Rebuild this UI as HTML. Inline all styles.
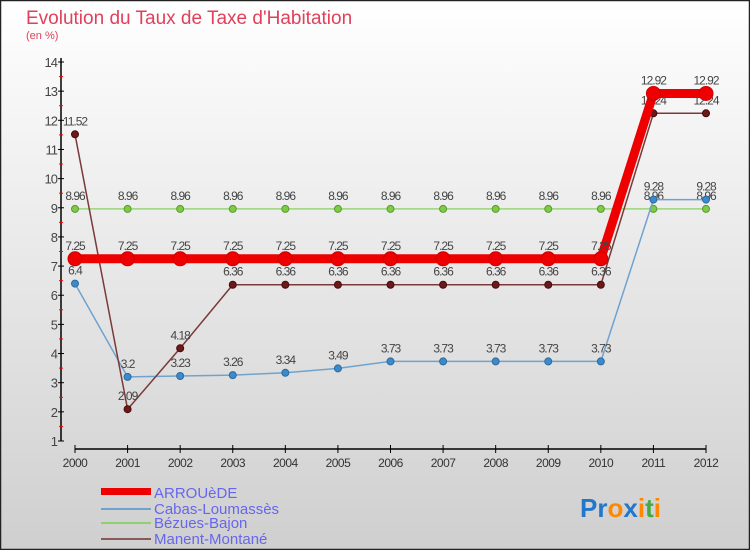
<!DOCTYPE html>
<html><head><meta charset="utf-8"><style>
body{margin:0;}
svg{display:block;font-family:"Liberation Sans",sans-serif;}
</style></head><body>
<svg id="chart" width="750" height="550" viewBox="0 0 750 550">
<defs><linearGradient id="bg" x1="0" y1="0" x2="0" y2="1"><stop offset="0" stop-color="#ffffff"/><stop offset="1" stop-color="#cfcfcf"/></linearGradient></defs>
<rect x="0.5" y="0.5" width="749" height="549" fill="url(#bg)" stroke="#222" stroke-width="1.5"/>
<text x="26" y="24" font-size="19" fill="#e0405a">Evolution du Taux de Taxe d'Habitation</text>
<text x="26" y="39" font-size="11" fill="#e0405a">(en %)</text>
<g id="axes"></g>
<g id="series"></g>
<g>
<rect x="101" y="488" width="50" height="7" fill="#ee0000"/>
<text x="154" y="498" font-size="15" fill="#6666ee">ARROUèDE</text>
<rect x="101" y="508" width="50" height="2" fill="#6fa3cf"/>
<text x="154" y="514" font-size="15" fill="#6666ee">Cabas-Loumassès</text>
<rect x="101" y="522" width="50" height="2" fill="#8fd070"/>
<text x="154" y="528" font-size="15" fill="#6666ee">Bézues-Bajon</text>
<rect x="101" y="538" width="50" height="2" fill="#8a5a5a"/>
<text x="154" y="544" font-size="15" fill="#6666ee">Manent-Montané</text>
</g>
<text x="580" y="517" font-size="26" font-weight="bold"><tspan fill="#2277cc">Pr</tspan><tspan fill="#ff8800">o</tspan><tspan fill="#2277cc">x</tspan><tspan fill="#ff8800">i</tspan><tspan fill="#44aa44">t</tspan><tspan fill="#ff8800">i</tspan></text>
</svg>
<script>
const years=[2000,2001,2002,2003,2004,2005,2006,2007,2008,2009,2010,2011,2012];
const yTicks=[1,2,3,4,5,6,7,8,9,10,11,12,13,14];
const arrouede=[7.25,7.25,7.25,7.25,7.25,7.25,7.25,7.25,7.25,7.25,7.25,12.92,12.92];
const cabas=[6.4,3.2,3.23,3.26,3.34,3.49,3.73,3.73,3.73,3.73,3.73,9.28,9.28];
const bezues=[8.96,8.96,8.96,8.96,8.96,8.96,8.96,8.96,8.96,8.96,8.96,8.96,8.96];
const manent=[11.52,2.09,4.18,6.36,6.36,6.36,6.36,6.36,6.36,6.36,6.36,12.24,12.24];
const NS="http://www.w3.org/2000/svg";
const xS=i=>75+i*(706-75)/(years.length-1);
const yS=v=>441-(v-1)*(441-62)/13;
function mk(tag,attrs,parent,text){const e=document.createElementNS(NS,tag);for(const k in attrs)e.setAttribute(k,attrs[k]);if(text!==undefined)e.textContent=text;parent.appendChild(e);return e;}
const ax=document.getElementById('axes');
let e=mk('line',{x1:61,y1:yS(14)-4,x2:61,y2:yS(1),stroke:'#000','stroke-width':1.5},ax);


yTicks.forEach(t=>{
 mk('line',{x1:58,x2:64,y1:yS(t),y2:yS(t),stroke:'#000'},ax);
 if(t<14)mk('line',{x1:59,x2:63,y1:yS(t+0.5),y2:yS(t+0.5),stroke:'#ff0000'},ax);
 const l=mk('text',{x:57,y:yS(t)+5,'font-size':13,fill:'#444','text-anchor':'end','letter-spacing':'-1'},ax,String(t));
 
 
});
e=mk('line',{x1:75,y1:449,x2:706,y2:449,stroke:'#000','stroke-width':1.5},ax);


years.forEach((y,i)=>{
 mk('line',{x1:xS(i),x2:xS(i),y1:445,y2:453,stroke:'#000'},ax);
 const l=mk('text',{x:xS(i),y:467,'font-size':12,fill:'#333','text-anchor':'middle','letter-spacing':'-0.5'},ax,String(y));
 
 
});
const sg=document.getElementById('series');
function series(name,vals,color,w,r,dot,dotStroke){
 const g=mk('g',{},sg);
 
 
 mk('polyline',{points:vals.map((v,i)=>xS(i)+','+yS(v)).join(' '),fill:'none',stroke:color,'stroke-width':w,'stroke-linejoin':'round'},g);
 vals.forEach((v,i)=>{
  const c=mk('circle',{cx:xS(i),cy:yS(v),r:r,fill:dot,stroke:dotStroke,'stroke-width':1},g);
  
  
  const t=mk('text',{x:xS(i),y:yS(v)-9,'font-size':12,fill:'#444','text-anchor':'middle','letter-spacing':'-1'},g,String(v));
  
  
 });
}
series('bezues',bezues,'#9ad67a',1.5,3.5,'#7ccc44','#5a9a30');
series('cabas',cabas,'#6fa3cf',1.5,3.5,'#3d8acb','#2a6aa0');
series('manent',manent,'#7a3a3a',1.5,3.5,'#6a1a1a','#4a0a0a');
series('arrouede',arrouede,'#ee0000',9,7,'#ee0000','#cc0000');
</script>
</body></html>
